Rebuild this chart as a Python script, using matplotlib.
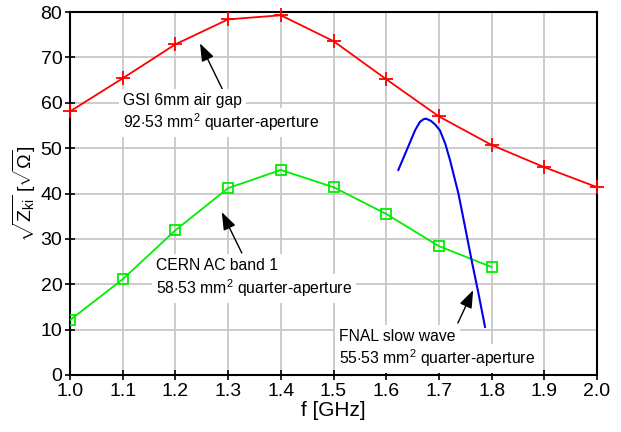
import matplotlib
matplotlib.use("Agg")
import matplotlib.pyplot as plt

plt.rcParams['font.family'] = ['Liberation Sans', 'DejaVu Sans']
plt.rcParams['mathtext.fontset'] = 'custom'
plt.rcParams['mathtext.rm'] = 'Liberation Sans'
plt.rcParams['mathtext.it'] = 'Liberation Sans'
plt.rcParams['mathtext.bf'] = 'Liberation Sans:bold'

f_gsi = [1.0, 1.1, 1.2, 1.3, 1.4, 1.5, 1.6, 1.7, 1.8, 1.9, 2.0]
z_gsi = [58.1, 65.4, 72.9, 78.4, 79.3, 73.6, 65.2, 57.0, 50.7, 45.8, 41.4]

f_cern = [1.0, 1.1, 1.2, 1.3, 1.4, 1.5, 1.6, 1.7, 1.8]
z_cern = [12.1, 21.1, 31.9, 41.2, 45.2, 41.4, 35.5, 28.4, 23.8]

f_fnal = [1.623, 1.639, 1.655, 1.664, 1.671, 1.676, 1.685, 1.693, 1.702, 1.712,
          1.721, 1.737, 1.7495, 1.762, 1.775, 1.7875]
z_fnal = [45.2, 49.6, 54.0, 55.8, 56.4, 56.5, 56.0, 55.2, 53.9, 51.0,
          47.4, 40.0, 32.7, 25.3, 18.0, 10.6]

xticks = [1.0, 1.1, 1.2, 1.3, 1.4, 1.5, 1.6, 1.7, 1.8, 1.9, 2.0]
yticks = [0, 10, 20, 30, 40, 50, 60, 70, 80]

labels = [
    ('GSI 6mm air gap', '92$\\cdot$53 mm$^2$ quarter-aperture'),
    ('CERN AC band 1', '58$\\cdot$53 mm$^2$ quarter-aperture'),
    ('FNAL slow wave', '55$\\cdot$53 mm$^2$ quarter-aperture'),
]

fig = plt.figure(figsize=(6.21, 4.32), dpi=100)
ax = fig.add_axes([0.1127, 0.132, 0.8487, 0.840])

ax.plot(f_gsi, z_gsi, color='#ff0000', lw=1.3, marker='+', ms=10, mew=1.3, zorder=3, clip_on=False)
ax.plot(f_cern, z_cern, color='#00ee00', lw=1.3, marker='s', ms=7, mfc='none', mec='#00ee00', mew=1.3, zorder=3)
ax.plot(f_fnal, z_fnal, color='#0000ee', lw=1.5, zorder=3)

ax.set_xlim(1.0, 2.0)
ax.set_ylim(0, 80)
ax.set_xticks(xticks)
ax.set_xticklabels([f"{v:.1f}" for v in xticks])
ax.set_yticks(yticks)
ax.grid(True, color='#c8c8c8', lw=1.3)
ax.set_axisbelow(True)
for s in ax.spines.values():
    s.set_linewidth(1.5)
ax.tick_params(direction='inout', length=7, width=1.2, labelsize=14, pad=2)

ax.set_xlabel('f [GHz]', fontsize=15, labelpad=1)
ax.set_ylabel(r'$\sqrt{Z_{\mathrm{ki}}}$ [$\sqrt{\Omega}$]', fontsize=14, labelpad=2)

bbox = dict(boxstyle='square,pad=0.25', fc='white', ec='none')
arrow = dict(arrowstyle='-|>,head_length=0.6,head_width=0.22', color='black', lw=1.0,
             mutation_scale=18, shrinkA=0, shrinkB=0)
ax.annotate('', xy=(1.2467, 73.1), xytext=(1.290, 62.8), arrowprops=arrow, zorder=4)
ax.annotate('', xy=(1.288, 35.9), xytext=(1.326, 26.9), arrowprops=arrow, zorder=4)
ax.annotate('', xy=(1.765, 18.7), xytext=(1.736, 11.45), arrowprops=arrow, zorder=4)

text_pos = [(1.1006, 60.8, 56.2), (1.163, 24.4, 19.6), (1.511, 8.8, 4.2)]
for (l1, l2), (x, y1, y2) in zip(labels, text_pos):
    ax.text(x, y2, l2, fontsize=11.3, va='center_baseline', ha='left', bbox=bbox, zorder=5)
    ax.text(x, y1, l1, fontsize=11.3, va='center_baseline', ha='left', bbox=bbox, zorder=5)

fig.savefig('out.png', dpi=100)
